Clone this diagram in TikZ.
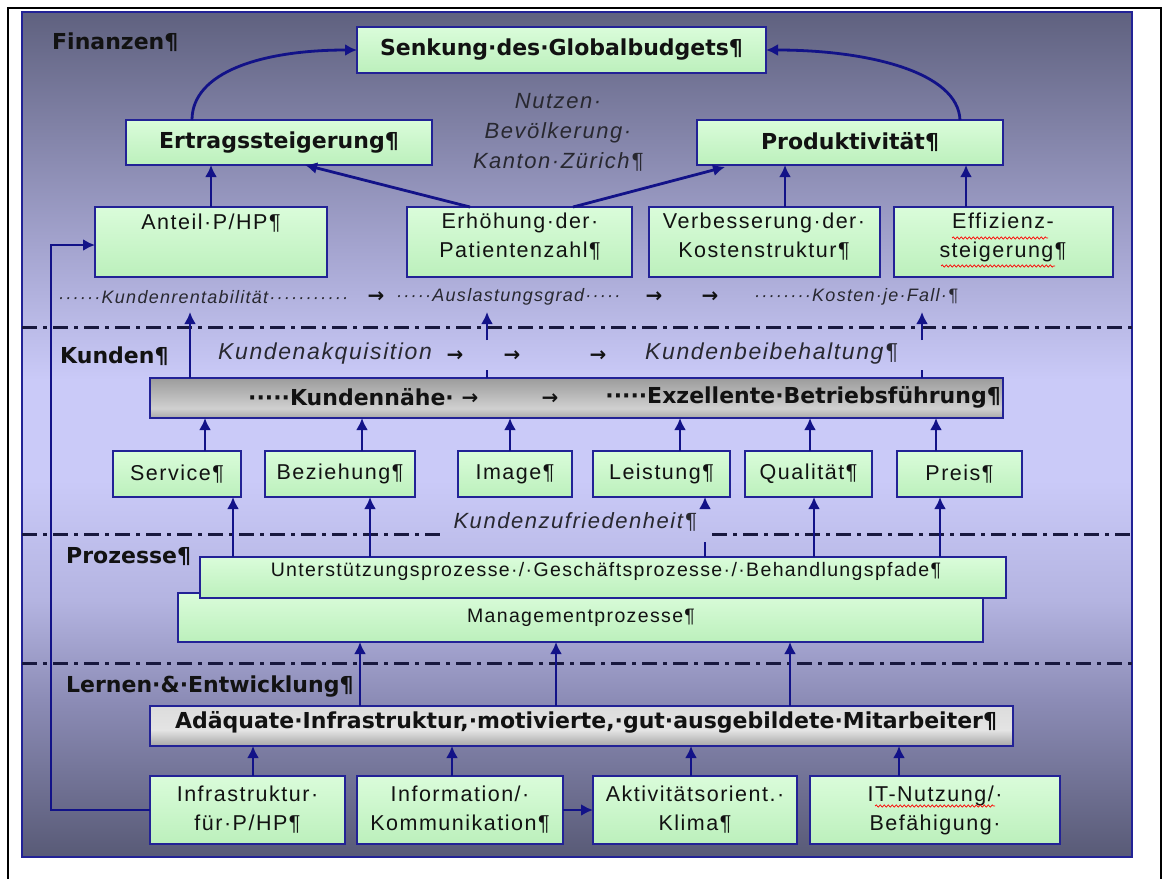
\documentclass[tikz,border=0pt]{standalone}
\usepackage{fontspec}
\usetikzlibrary{arrows.meta,calc,decorations.pathmorphing}
\newfontfamily\regf{Liberation Sans}[LetterSpace=7]
\newfontfamily\boldf{DejaVu Sans}
\newfontfamily\arrf{DejaVu Sans}
\definecolor{navy}{RGB}{18,18,136}
\definecolor{bordc}{RGB}{34,34,150}
\definecolor{dashc}{RGB}{24,24,62}
\definecolor{txtc}{RGB}{18,18,18}
\definecolor{itc}{RGB}{40,40,48}
\definecolor{pA}{RGB}{88,90,118}
\definecolor{pB}{RGB}{140,140,182}
\definecolor{pC}{RGB}{180,180,225}
\definecolor{pD}{RGB}{202,202,248}
\definecolor{pE}{RGB}{165,165,208}
\definecolor{pF}{RGB}{95,97,127}
\definecolor{gtop}{RGB}{218,252,218}
\definecolor{gbot}{RGB}{188,240,188}
\definecolor{kA}{RGB}{168,168,168}
\definecolor{kB}{RGB}{208,208,208}
\definecolor{kC}{RGB}{176,176,176}
\definecolor{kD}{RGB}{156,156,156}
\definecolor{aA}{RGB}{166,166,166}
\definecolor{aB}{RGB}{228,228,228}
\definecolor{aC}{RGB}{220,220,220}
\pgfdeclareverticalshading{panelsh}{100bp}{color(0bp)=(pA); color(25bp)=(pA); color(34.3bp)=(pB); color(40.2bp)=(pC); color(47.3bp)=(pD); color(53.2bp)=(pD); color(60.9bp)=(pE); color(75bp)=(pF); color(100bp)=(pF)}
\pgfdeclareverticalshading{knsh}{100bp}{color(0bp)=(kA); color(25bp)=(kA); color(37bp)=(kB); color(60bp)=(kC); color(75bp)=(kD); color(100bp)=(kD)}
\pgfdeclareverticalshading{adqsh}{100bp}{color(0bp)=(aA); color(25bp)=(aA); color(45bp)=(aB); color(75bp)=(aC); color(100bp)=(aC)}
\pgfdeclareverticalshading{grsh}{100bp}{color(0bp)=(gbot); color(25bp)=(gbot); color(75bp)=(gtop); color(100bp)=(gtop)}
\tikzset{
  box/.style={rectangle, draw=bordc, line width=1.8pt, inner sep=0pt, outer sep=0pt},
  gbox/.style={box, shading=grsh},
  knbox/.style={box, shading=knsh},
  adqbox/.style={box, shading=adqsh},
  bt/.style={font=\boldf\bfseries\fontsize{22}{26}\selectfont, text=txtc, inner sep=0pt},
  rt/.style={font=\regf\fontsize{21.5}{29}\selectfont, text=txtc, align=center, inner sep=0pt},
  st/.style={font=\regf\fontsize{19.5}{24}\selectfont, text=txtc, inner sep=0pt},
  itxt/.style={font=\regf\itshape\fontsize{22}{30}\selectfont, text=itc, align=center, inner sep=0pt},
  ikrow/.style={font=\regf\itshape\fontsize{23}{30}\selectfont, text=itc, inner sep=0pt},
  irow/.style={font=\regf\itshape\fontsize{18}{22}\selectfont, text=itc, inner sep=0pt},
  arrtxt/.style={font=\arrf\bfseries\fontsize{20}{22}\selectfont, text=txtc, inner sep=0pt},
  arr/.style={draw=navy, line width=2.8pt, -{Latex[length=12pt,width=12pt]}},
  dashln/.style={draw=dashc, line width=3pt, dash pattern=on 15pt off 6pt on 4pt off 6pt},
  wavy/.style={draw=red, line width=0.7pt, decorate, decoration={snake, amplitude=1.1pt, segment length=4pt}}
}
\newcommand\mkbox[6]{\node[#1, minimum width={(#5-#3)*1pt}, minimum height={(#6-#4)*1pt}] (#2) at ({(#3+#5)/2},{(#4+#6)/2}) {};}
\begin{document}
\begin{tikzpicture}[x=1pt,y=-1pt]
\useasboundingbox (0,0) rectangle (1166,878);
\fill[white] (0,0) rectangle (1166,878);
\draw[black, line width=2pt] (8,8) rectangle (1161,900);
\path[shading=panelsh, draw=bordc, line width=1.2pt] (22,12) rectangle (1132,857);
% dash-dot separators
\draw[dashln] (22,327) -- (1132,327);
\draw[dashln] (22,534) -- (440,534);
\draw[dashln] (712,534) -- (1132,534);
\draw[dashln] (22,663) -- (1132,663);
% boxes
\mkbox{gbox}{senk}{357}{27}{766}{73}
\mkbox{gbox}{ertrag}{126}{120}{432}{165}
\mkbox{gbox}{prod}{697}{120}{1003}{165}
\mkbox{gbox}{anteil}{95}{207}{327}{277}
\mkbox{gbox}{erh}{407}{207}{632}{277}
\mkbox{gbox}{verb}{649}{207}{880}{277}
\mkbox{gbox}{eff}{894}{207}{1113}{277}
\mkbox{knbox}{kn}{150}{378}{1003}{418}
\mkbox{gbox}{service}{113}{451}{241}{497}
\mkbox{gbox}{bez}{265}{451}{415}{497}
\mkbox{gbox}{image}{458}{451}{572}{497}
\mkbox{gbox}{leist}{593}{451}{730}{497}
\mkbox{gbox}{qual}{745}{451}{872}{497}
\mkbox{gbox}{preis}{897}{451}{1022}{497}
\mkbox{gbox}{mgmt}{178}{593}{983}{642}
\mkbox{gbox}{unter}{200}{557}{1006}{598}
\mkbox{adqbox}{adq}{150}{706}{1013}{746}
\mkbox{gbox}{infra}{150}{776}{345}{844}
\mkbox{gbox}{info}{357}{776}{563}{844}
\mkbox{gbox}{akt}{593}{776}{797}{844}
\mkbox{gbox}{it}{810}{776}{1060}{844}
% arrow feet
\coordinate (a1) at (192,120);
\coordinate (a2) at (960,120);
\coordinate (a3) at (470,207);
\coordinate (a4) at (573,207);
\coordinate (t3) at (305,165);
\coordinate (t4) at (725,167);
\coordinate (a5) at (785,207);
\coordinate (a6) at (966,207);
\coordinate (k1) at (190,378);
\coordinate (k2) at (487,378);
\coordinate (k3) at (922,378);
\coordinate (kt1) at (190,312);
\coordinate (kt2) at (487,312);
\coordinate (kt3) at (922,312);
% Finanzen arrows
\draw[arr] (a1) .. controls (192,72) and (262,50) .. (senk.west);
\draw[arr] (a2) .. controls (958,72) and (868,50) .. (senk.east);
\draw[arr] (anteil.north) -- (anteil.north |- ertrag.south);
\draw[arr] (a3) -- (t3);
\draw[arr] (a4) -- (t4);
\draw[arr] (a5) -- (a5 |- prod.south);
\draw[arr] (a6) -- (a6 |- prod.south);
% Kunden -> Finanzen
\draw[arr] (k1) -- (kt1);
\draw[arr, dash pattern=on 8pt off 30pt on 60pt] (k2) -- (kt2);
\draw[arr, dash pattern=on 8pt off 30pt on 60pt] (k3) -- (kt3);
% small boxes -> Kundennaehe
\foreach \b/\x in {service/205, bez/362, image/510, leist/680, qual/810, preis/936}{
  \coordinate (f\b) at (\x,451);
  \draw[arr] (f\b) -- (f\b |- kn.south);
}
% Prozesse -> small boxes
\foreach \b/\x in {service/233, bez/370, qual/814, preis/940}{
  \coordinate (p\b) at (\x,557);
  \draw[arr] (p\b) -- (p\b |- \b.south);
}
\coordinate (pleist) at (705,557);
\draw[arr, dash pattern=on 15pt off 34pt on 40pt] (pleist) -- (pleist |- leist.south);
% Lernen -> Prozesse
\foreach \n/\x in {1/360, 2/556, 3/790}{
  \coordinate (m\n) at (\x,706);
  \draw[arr] (m\n) -- (m\n |- mgmt.south);
}
% bottom boxes -> Adaequate
\foreach \b/\x in {infra/253, info/452, akt/691, it/899}{
  \coordinate (q\b) at (\x,776);
  \draw[arr] (q\b) -- (q\b |- adq.south);
}
\draw[arr] (info.east) -- (akt.west);
\coordinate (fb) at (51,245);
\draw[arr] (infra.west) -| (fb) -- (fb -| anteil.west);
% section labels
\node[bt, anchor=west] (lfin) at (52,42) {Finanzen¶};
\node[bt, anchor=west] (lkun) at (60,356) {Kunden¶};
\node[bt, anchor=west] (lpro) at (66,557) {Prozesse¶};
\node[bt, anchor=west] (llern) at (66,687) {Lernen·\&·Entwicklung¶};
% box texts
\node[bt] (tsenk) at (senk) {Senkung·des·Globalbudgets¶};
\node[bt] (tertrag) at (ertrag) {Ertragssteigerung¶};
\node[bt] (tprod) at (prod) {Produktivität¶};
\node[rt] (tanteil) at (211,223) {Anteil·P/HP¶};
\node[rt] (terh) at (520,237) {Erhöhung·der·\\Patientenzahl¶};
\node[rt] (tverb) at (764,237) {Verbesserung·der·\\Kostenstruktur¶};
\node[rt] (teff) at (1003,237) {Effizienz-\\steigerung¶};
\node[itxt] (tnutzen) at (558,132) {Nutzen·\\Bevölkerung·\\Kanton·Zürich¶};
% ratio row
\node[irow, anchor=west] (krent) at (58,297) {······Kundenrentabilität···········};
\node[arrtxt] (ra1) at (376,297) {→};
\node[irow, anchor=west] (ausl) at (396,297) {·····Auslastungsgrad·····};
\node[arrtxt] (ra2) at (654,297) {→};
\node[arrtxt] (ra3) at (710,297) {→};
\node[irow, anchor=west] (kost) at (754,297) {········Kosten·je·Fall·¶};
% Kunden row
\node[ikrow, anchor=west] (kakq) at (218,354) {Kundenakquisition};
\node[arrtxt] (ka1) at (455,356) {→};
\node[arrtxt] (ka2) at (512,356) {→};
\node[arrtxt] (ka3) at (598,356) {→};
\node[ikrow, anchor=west] (kbei) at (645,354) {Kundenbeibehaltung¶};
% Kundennaehe row
\node[bt, anchor=west] (tkn1) at (248,397) {·····Kundennähe·};
\node[arrtxt] (kna1) at (470,399) {→};
\node[arrtxt] (kna2) at (550,399) {→};
\node[bt, anchor=east] (tkn2) at (1001,397) {·····Exzellente·Betriebsführung¶};
% small boxes
\node[rt] (tservice) at (service) {Service¶};
\node[rt] (tbez) at (bez) {Beziehung¶};
\node[rt] (timage) at (image) {Image¶};
\node[rt] (tleist) at (leist) {Leistung¶};
\node[rt] (tqual) at (qual) {Qualität¶};
\node[rt] (tpreis) at (preis) {Preis¶};
\node[itxt] (tzuf) at (575,522) {Kundenzufriedenheit¶};
% Prozesse
\node[st] (tunter) at (606,571) {Unterstützungsprozesse·/·Geschäftsprozesse·/·Behandlungspfade¶};
\node[st] (tmgmt) at (581,618) {Managementprozesse¶};
% Lernen
\node[bt] (tadq) at (586,722) {Adäquate·Infrastruktur,·motivierte,·gut·ausgebildete·Mitarbeiter¶};
\node[rt] (tinfra) at (infra) {Infrastruktur·\\für·P/HP¶};
\node[rt] (tinfo) at (info) {Information/·\\Kommunikation¶};
\node[rt] (takt) at (akt) {Aktivitätsorient.·\\Klima¶};
\node[rt] (tit) at (it) {IT-Nutzung/·\\Befähigung·};
% spell-check underlines
\draw[wavy] (952,238) -- (1048,238);
\draw[wavy] (941,266) -- (1055,266);
\draw[wavy] (875,806) -- (995,806);
\end{tikzpicture}
\end{document}
